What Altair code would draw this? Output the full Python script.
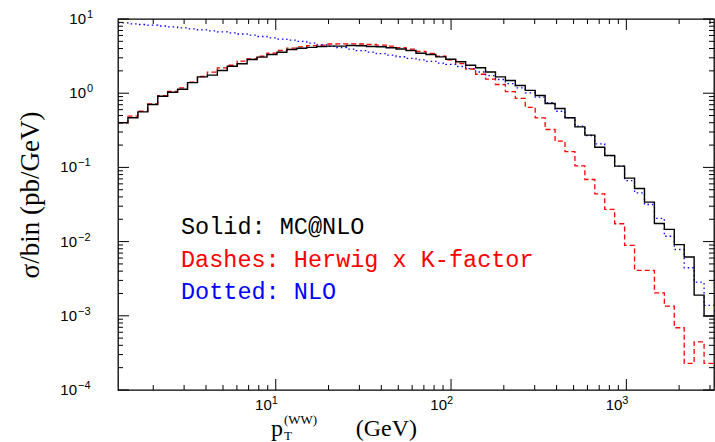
import altair as alt
import pandas as pd

# ---- binning (log10 pT from 0.1 to 3.5, 60 equal bins) ----
LOG_MIN, LOG_MAX, NBINS = 0.1, 3.5, 60
EDGES = [10 ** (LOG_MIN + k * (LOG_MAX - LOG_MIN) / NBINS) for k in range(NBINS + 1)]

# ---- series values (sigma/bin, pb/GeV), one per bin ----
MCNLO = [0.40, 0.466, 0.561, 0.705, 0.91, 1.03, 1.13, 1.39, 1.66, 1.75,
         2.02, 2.31, 2.49, 2.85, 3.06, 3.32, 3.57, 3.88, 4.03, 4.15,
         4.26, 4.31, 4.31, 4.40, 4.35, 4.26, 4.22, 4.09, 3.94, 3.76,
         3.46, 3.32, 3.09, 2.87, 2.65, 2.38, 2.20, 1.93, 1.66, 1.48,
         1.27, 1.09, 0.93, 0.726, 0.622, 0.466, 0.352, 0.272, 0.187, 0.145,
         0.104, 0.0716, 0.052, 0.034, 0.0175, 0.0146, 0.0091, 0.0062, 0.0019, 0.00099]

HERWIG_K = [0.40, 0.49, 0.571, 0.72, 0.93, 1.06, 1.18, 1.41, 1.68, 1.92,
            2.20, 2.38, 2.70, 2.90, 3.15, 3.46, 3.76, 4.05, 4.22, 4.38,
            4.45, 4.60, 4.62, 4.62, 4.60, 4.53, 4.45, 4.31, 4.12, 3.92,
            3.65, 3.45, 3.15, 2.82, 2.50, 2.12, 1.80, 1.55, 1.31, 1.05,
            0.85, 0.645, 0.466, 0.324, 0.226, 0.163, 0.105, 0.0687, 0.044, 0.0271,
            0.0174, 0.0089, 0.0041, 0.0041, 0.00204, 0.00135, 0.00069, 0.000228, 0.000446, 0.000228]

NLO = [8.84, 8.61, 8.43, 8.25, 8.05, 7.85, 7.61, 7.38, 7.15, 6.93,
       6.72, 6.51, 6.28, 6.05, 5.81, 5.58, 5.37, 5.18, 4.98, 4.72,
       4.49, 4.29, 4.11, 3.92, 3.74, 3.57, 3.41, 3.25, 3.10, 2.95,
       2.82, 2.69, 2.55, 2.44, 2.29, 2.15, 1.93, 1.73, 1.53, 1.35,
       1.18, 1.01, 0.883, 0.743, 0.571, 0.466, 0.359, 0.269, 0.208, 0.1445,
       0.104, 0.0665, 0.0455, 0.0316, 0.0206, 0.0118, 0.00783, 0.00444, 0.00284, 0.00138]

# ---- ticks and tick labels ----
X_MAJOR = [10, 100, 1000]
X_EXP = ["1", "2", "3"]
X_MINOR = [2, 3, 4, 5, 6, 7, 8, 9, 20, 30, 40, 50, 60, 70, 80, 90,
           200, 300, 400, 500, 600, 700, 800, 900, 2000, 3000]
Y_MAJOR = [1e-4, 1e-3, 1e-2, 1e-1, 1, 10]
Y_POS = [1, 10]
Y_POS_EXP = ["0", "1"]
Y_NEG = [1e-4, 1e-3, 1e-2, 1e-1]
Y_NEG_EXP = ["−4", "−3", "−2", "−1"]
Y_MINOR = [m * 10.0 ** e for e in range(-4, 1) for m in range(2, 10)]

LEGEND_LINES = ["Solid: MC@NLO", "Dashes: Herwig x K-factor", "Dotted: NLO"]
LEGEND_COLORS = ["#000000", "#ff0000", "#0000ff"]
Y_TITLE = "σ/bin (pb/GeV)"


def steps(vals):
    return pd.DataFrame({"pt": EDGES, "sigma": list(vals) + [vals[-1]]})


W, H = 596, 371
MAJ, MIN = 11, 5
SANS = "Liberation Sans"
SERIF = "Liberation Serif"

xs = alt.Scale(type="log", domain=[EDGES[0], EDGES[-1]], nice=False)
ys = alt.Scale(type="log", domain=[1e-4, 10], nice=False)


def line(vals, **mk):
    return alt.Chart(steps(vals)).mark_line(interpolate="step-after", clip=True, **mk).encode(
        x=alt.X("pt:Q", scale=xs, axis=None),
        y=alt.Y("sigma:Q", scale=ys, axis=None),
    )


red = line(HERWIG_K, color="#ff0000", strokeWidth=1.3, strokeDash=[5, 3])
blue = line(NLO, color="#0000ff", strokeWidth=1.3, strokeDash=[1.5, 3])
black = line(MCNLO, color="#000000", strokeWidth=1.4)


def xticks(values, length, top):
    y0, y1 = (0, length) if top else (H, H - length)
    return alt.Chart(pd.DataFrame({"v": values})).mark_rule(color="black", strokeWidth=1).encode(
        x=alt.X("v:Q", scale=xs, axis=None), y=alt.value(y0), y2=alt.value(y1))


def yticks(values, length, right):
    x0, x1 = (W, W - length) if right else (0, length)
    return alt.Chart(pd.DataFrame({"v": values})).mark_rule(color="black", strokeWidth=1).encode(
        y=alt.Y("v:Q", scale=ys, axis=None), x=alt.value(x0), x2=alt.value(x1))


ticks = [xticks(X_MAJOR, MAJ, False), xticks(X_MINOR, MIN, False),
         xticks(X_MAJOR, MAJ, True), xticks(X_MINOR, MIN, True),
         yticks(Y_MAJOR, MAJ, False), yticks(Y_MINOR, MIN, False),
         yticks(Y_MAJOR, MAJ, True), yticks(Y_MINOR, MIN, True)]


# ---- tick labels: "10" plus raised exponent ----
def xlab(texts, size, ypix, align, dx):
    return alt.Chart(pd.DataFrame({"v": X_MAJOR, "t": texts})).mark_text(
        align=align, baseline="alphabetic", font=SANS, fontSize=size, dx=dx, color="black"
    ).encode(x=alt.X("v:Q", scale=xs, axis=None), y=alt.value(ypix), text="t:N")


def ylab(values, texts, size, xpix, align, dy):
    return alt.Chart(pd.DataFrame({"v": values, "t": texts})).mark_text(
        align=align, baseline="alphabetic", font=SANS, fontSize=size, dy=dy, color="black"
    ).encode(y=alt.Y("v:Q", scale=ys, axis=None), x=alt.value(xpix), text="t:N")


tick_labels = [
    xlab(["10"] * len(X_MAJOR), 15, H + 20, "right", -4),
    xlab(X_EXP, 11, H + 14, "left", -4),
    ylab(Y_POS, ["10"] * len(Y_POS), 15, -32, "right", 5),
    ylab(Y_POS, Y_POS_EXP, 11, -31, "left", -1),
    ylab(Y_NEG, ["10"] * len(Y_NEG), 15, -41, "right", 5),
    ylab(Y_NEG, Y_NEG_EXP, 11, -40, "left", -1),
]

legend = [
    alt.Chart(pd.DataFrame({"t": [LEGEND_LINES[i]]})).mark_text(
        align="left", baseline="alphabetic", font="Liberation Mono", fontSize=23.5,
        color=LEGEND_COLORS[i]).encode(text="t:N", x=alt.value(63), y=alt.value(yy))
    for i, yy in enumerate([215, 248, 280])
]


def label(txt, x, y, size, align="left", angle=0):
    return alt.Chart(pd.DataFrame({"t": [txt]})).mark_text(
        align=align, baseline="alphabetic", font=SERIF, fontSize=size, angle=angle,
        color="black").encode(text="t:N", x=alt.value(x), y=alt.value(y))


titles = [
    label("p", 153, 417, 24),
    label("T", 166, 421, 13),
    label("(WW)", 166, 405, 13),
    label("(GeV)", 299, 417, 24, align="right"),
    label(Y_TITLE, -79, 176, 27, align="center", angle=270),
]

chart = alt.layer(red, blue, black, *ticks, *tick_labels, *legend, *titles).properties(
    width=W, height=H, autosize="none",
    padding={"left": 118, "top": 19, "right": 1, "bottom": 52},
    background="white",
).configure_view(stroke="black", strokeWidth=1.3)

chart.save("out.html", embed_options={"renderer": "svg", "actions": False})
